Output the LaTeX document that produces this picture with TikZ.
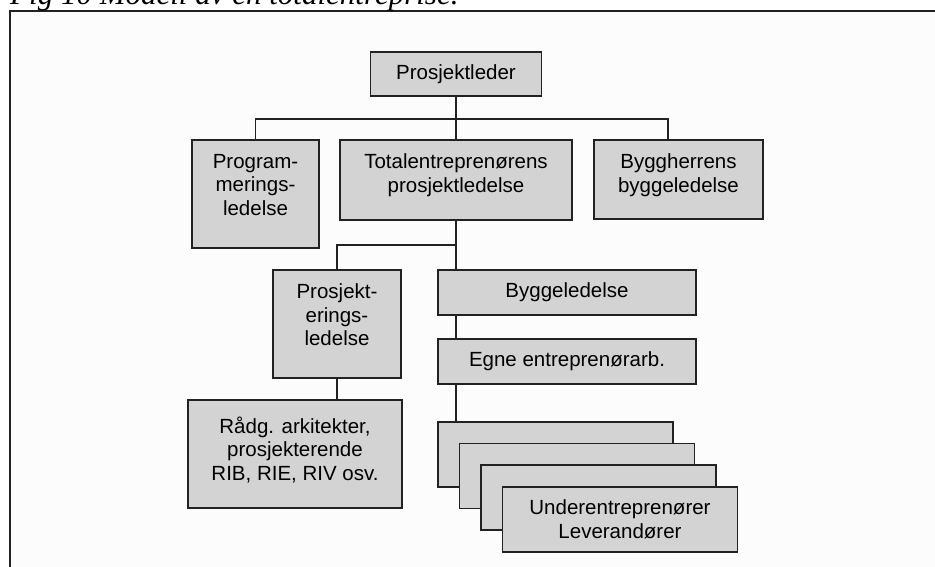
\documentclass[tikz,border=0pt]{standalone}
\usepackage{fontspec}
\setmainfont{Liberation Sans}
\newfontfamily\captionserif{Liberation Serif}
\usetikzlibrary{calc}
\definecolor{boxfill}{HTML}{D3D3D3}
\definecolor{edge}{HTML}{222222}
\definecolor{paper}{HTML}{FCFCFC}

\begin{document}
\begin{tikzpicture}[x=1pt,y=-1pt,
  orgbox/.style={draw=edge, fill=boxfill, line width=1.6pt, inner sep=0pt,
    align=center, font=\fontsize{20.5}{23.5}\selectfont},
  boxtext/.style={align=center, inner sep=0pt, font=\fontsize{20.5}{23.5}\selectfont},
  wire/.style={draw=edge, line width=1.5pt}]
\useasboundingbox (0,0) rectangle (935,566);

% page frame and caption
\fill[paper] (10,11) rectangle (940,570);
\draw[line width=2pt, edge] (10,570) -- (10,11) -- (940,11);
\node[anchor=base west, inner sep=0pt,
  font=\captionserif\itshape\fontsize{31}{36}\selectfont] (caption) at (10,4)
  {Fig 10 Modell av en totalentreprise.};

% top level
\node[orgbox, minimum width=171pt, minimum height=44pt] (pl) at (456,74) {Prosjektleder};

% second level
\node[orgbox, minimum width=127pt, minimum height=108pt,
  label={[boxtext, yshift=9pt]center:{Program-\\merings-\\ledelse}}] (prog) at (255.5,194) {};
\node[orgbox, minimum width=232pt, minimum height=80pt,
  label={[boxtext, yshift=5pt]center:{Totalentreprenørens\\prosjektledelse}}] (tot) at (456,180) {};
\node[orgbox, minimum width=169pt, minimum height=79pt,
  label={[boxtext, yshift=4.5pt]center:{Byggherrens\\byggeledelse}}] (bh) at (678.5,179.5) {};

% third level
\node[orgbox, minimum width=128pt, minimum height=108pt,
  label={[boxtext, yshift=9pt]center:{Prosjekt-\\erings-\\ledelse}}] (prosj) at (337,324) {};
\node[orgbox, minimum width=258pt, minimum height=45pt] (bygg) at (567,292.5) {Byggeledelse};
\node[orgbox, minimum width=258pt, minimum height=45pt] (egne) at (567,361.5) {Egne entreprenørarb.};
\node[orgbox, minimum width=214pt, minimum height=108pt,
  label={[boxtext, yshift=4pt]center:{Rådg. arkitekter,\\prosjekterende\\RIB, RIE, RIV osv.}}] (radg) at (295,454) {};

% stacked sub-contractor cards
\node[orgbox, minimum width=235pt, minimum height=65pt] (u1) at (555.5,454.5) {};
\node[orgbox, minimum width=235pt, minimum height=65pt] (u2) at (577,476) {};
\node[orgbox, minimum width=235pt, minimum height=65pt] (u3) at (598.5,497.5) {};
\node[orgbox, minimum width=235pt, minimum height=65pt] (u4) at (620,519.5)
  {Underentreprenører\\Leverandører};

% connectors
\coordinate (bhtap) at ($(bh.north west)+(75,0)$);
\coordinate (bus) at (456,119);
\coordinate (split) at (456,245);
\draw[wire] (pl.south) -- (tot.north);
\draw[wire] (prog.north) |- (bus) -| (bhtap);
\draw[wire] (tot.south) -- (split) -| (prosj.north);
\draw[wire] (split) -- (split |- bygg.north);
\draw[wire] (split |- bygg.south) -- (split |- egne.north);
\draw[wire] (split |- egne.south) -- (split |- u1.north);
\draw[wire] (prosj.south) -- (prosj.south |- radg.north);
\end{tikzpicture}
\end{document}
